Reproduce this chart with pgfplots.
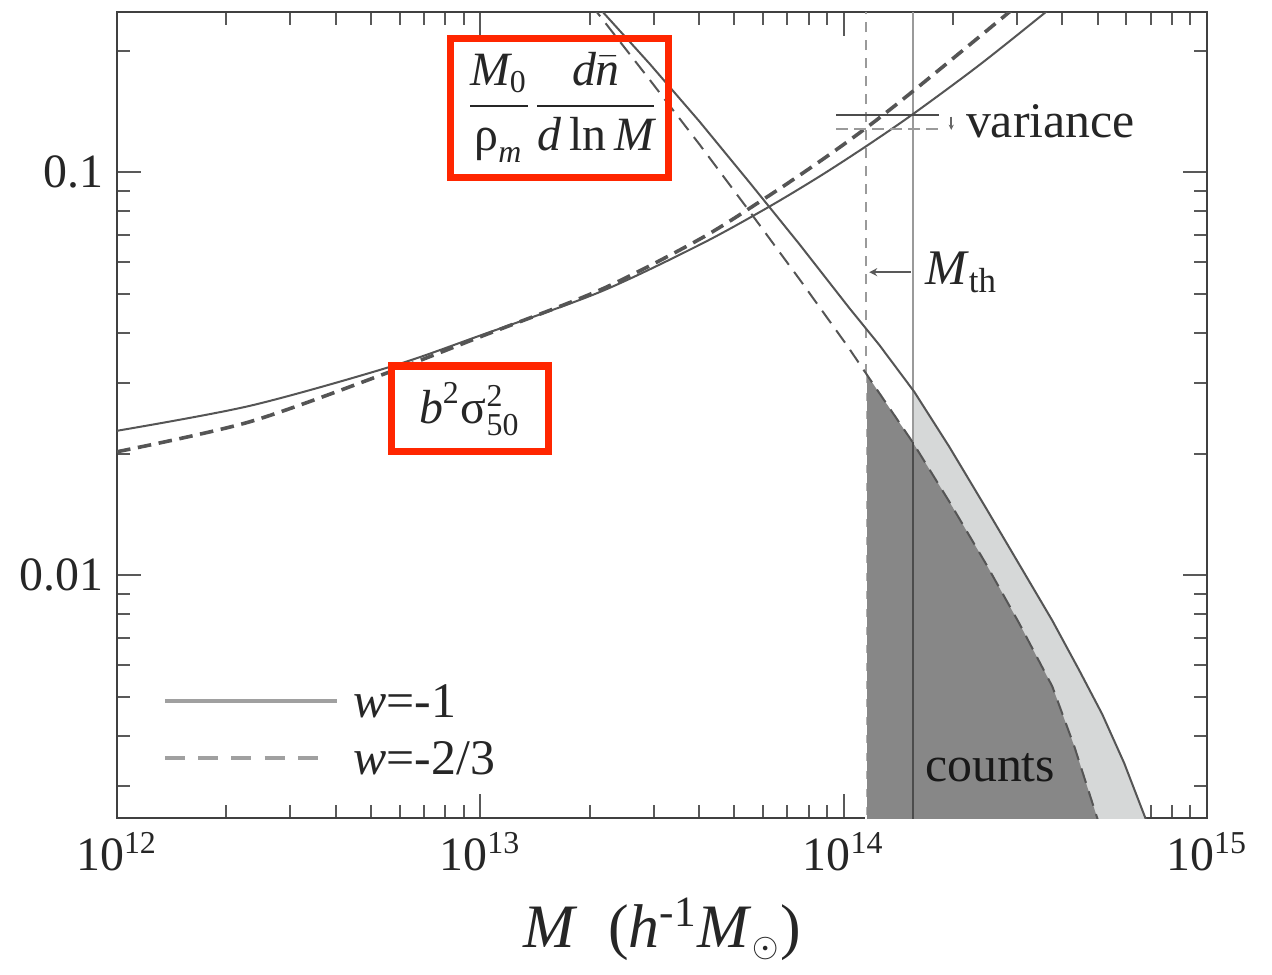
\documentclass[border=0pt]{standalone}
\usepackage{amsmath}
\usepackage{fontspec}
\setmainfont{Liberation Serif}
\usepackage{pgfplots}
\pgfplotsset{compat=1.18}
\usetikzlibrary{arrows.meta}
\definecolor{curve}{HTML}{555555}
\definecolor{vline}{HTML}{9A9A9A}
\definecolor{legline}{HTML}{A0A0A0}
\definecolor{darkfill}{HTML}{878787}
\definecolor{lightfill}{HTML}{D6D8D8}
\definecolor{boxred}{RGB}{255,38,0}
\newcommand{\ti}[1]{\text{\itshape #1}}
\newcommand{\tr}[1]{\text{#1}}
\begin{document}
\begin{tikzpicture}
\begin{axis}[
  name=main,
  xmode=log, ymode=log,
  scale only axis, width=272.5bp, height=201.5bp,
  xmin=1e12, xmax=1e15, ymin=0.0025, ymax=0.25,
  xtick={1e12,1e13,1e14,1e15},
  xticklabels={10\textsuperscript{12},10\textsuperscript{13},10\textsuperscript{14},10\textsuperscript{15}},
  minor xtick={2e12,3e12,4e12,5e12,6e12,7e12,8e12,9e12,2e13,3e13,4e13,5e13,6e13,7e13,8e13,9e13,2e14,3e14,4e14,5e14,6e14,7e14,8e14,9e14},
  ytick={0.01,0.1}, yticklabels={0.01,0.1},
  minor ytick={0.003,0.004,0.005,0.006,0.007,0.008,0.009,0.02,0.03,0.04,0.05,0.06,0.07,0.08,0.09,0.2},
  tick align=inside,
  major tick length=6bp, minor tick length=3.2bp,
  axis line style={draw=black!75, line width=0.6bp},
  every tick/.append style={black!65, line width=0.5bp},
  tick label style={font=\fontsize{12}{14}\selectfont, text=black!85},
  xlabel={\textit{M}\ \ (\textit{h}\textsuperscript{-1}\textit{M}\textsubscript{$\scriptstyle\odot$})},
  xlabel style={font=\fontsize{15.5}{18}\selectfont, text=black!85},
  clip=true,
]
% light fill (w=-1 counts)
\addplot[draw=none, fill=lightfill] coordinates {
(1.545e14,0.0024)(1.545e14,0.02898)(1.564e14,0.02854)(1.952e14,0.02086)(2.468e14,0.01465)(3.041e14,0.01065)(3.748e14,0.007737)(4.446e14,0.005819)(5.144e14,0.004528)(5.912e14,0.003425)(6.712e14,0.002546)(6.80e14,0.00247)(6.80e14,0.0024)
} -- cycle;
% dark fill (w=-2/3 counts)
\addplot[draw=none, fill=darkfill] coordinates {
(1.154e14,0.0024)(1.154e14,0.03162)(1.545e14,0.02146)(1.952e14,0.01525)(2.468e14,0.01065)(3.041e14,0.007606)(3.748e14,0.005311)(4.308e14,0.003773)(4.953e14,0.002546)(5.016e14,0.002461)(5.016e14,0.0024)
} -- cycle;
% vertical M_th lines
\addplot[vline, line width=0.6bp] coordinates {(1.55e14,0.0024)(1.55e14,0.26)};
\addplot[black!70, line width=0.6bp] coordinates {(1.55e14,0.0024)(1.55e14,0.0214)};
\addplot[vline, line width=0.45bp, dash pattern=on 2.5bp off 2bp] coordinates {(1.154e14,0.0316)(1.154e14,0.26)};
\addplot[white, line width=0.45bp, dash pattern=on 2.5bp off 2bp] coordinates {(1.154e14,0.0024)(1.154e14,0.0316)};
% b^2 sigma^2, w=-1 (solid)
\addplot[curve, line width=0.5bp, smooth, tension=0.5] coordinates {
(1e12,0.02285)(2.32e12,0.02635)(5.63e12,0.03291)(9.96e12,0.03935)(2.13e13,0.05047)(4.01e13,0.06611)(6.13e13,0.08149)(8.58e13,0.09774)(1.147e14,0.1158)(1.545e14,0.1392)(2.36e14,0.1846)(3.61e14,0.2505)(3.75e14,0.258)
};
% b^2 sigma^2, w=-2/3 (dashed, heavy)
\addplot[curve, line width=0.9bp, dash pattern=on 3.4bp off 1.9bp, smooth, tension=0.5] coordinates {
(1e12,0.02027)(2.32e12,0.02406)(5.63e12,0.03199)(9.96e12,0.03905)(2.13e13,0.05104)(4.01e13,0.06826)(6.13e13,0.08674)(8.58e13,0.1064)(1.147e14,0.1285)(1.545e14,0.1586)(2.86e14,0.2503)(2.95e14,0.258)
};
% mass function, w=-1 (solid)
\addplot[curve, line width=0.5bp] coordinates {
(2.09e13,0.258)(2.17e13,0.2503)(2.922e13,0.1861)(4.01e13,0.1337)(5.503e13,0.09445)(7.553e13,0.06634)(1.036e14,0.04607)(1.253e14,0.03731)(1.564e14,0.02854)(1.952e14,0.02086)(2.468e14,0.01465)(3.041e14,0.01065)(3.748e14,0.007737)(4.446e14,0.005819)(5.144e14,0.004528)(5.912e14,0.003425)(6.712e14,0.002546)(6.80e14,0.00247)
};
% mass function, w=-2/3 (dashed)
\addplot[curve, line width=0.5bp, dash pattern=on 3.8bp off 2.2bp] coordinates {
(2.011e13,0.261)(2.089e13,0.2503)(2.922e13,0.1699)(4.01e13,0.1173)(5.503e13,0.08007)(7.553e13,0.05434)(1.0235e14,0.0371)(1.154e14,0.03162)(1.545e14,0.02146)(1.952e14,0.01525)(2.468e14,0.01065)(3.041e14,0.007606)(3.748e14,0.005311)(4.308e14,0.003773)(4.953e14,0.002546)(5.016e14,0.002461)
};
% variance markers
\addplot[black!70, line width=0.5bp] coordinates {(9.546e13,0.1392)(1.832e14,0.1392)};
\addplot[vline, line width=0.5bp, dash pattern=on 3bp off 1.5bp] coordinates {(9.546e13,0.1285)(1.891e14,0.1285)};
\draw[black!60, line width=0.4bp, -{Stealth[length=1.3bp,width=1.3bp]}] (axis cs:1.977e14,0.1376) -- (axis cs:1.977e14,0.1275);
% M_th arrow
\draw[black!65, line width=0.5bp, -{Stealth[length=2bp,width=2bp]}] (axis cs:1.53e14,0.05655) -- (axis cs:1.175e14,0.05655);
% legend lines
\addplot[legline, line width=0.8bp] coordinates {(1.355e12,0.004877)(4.027e12,0.004877)};
\addplot[legline, line width=0.8bp, dash pattern=on 5bp off 3.3bp] coordinates {(1.355e12,0.003524)(3.662e12,0.003524)};
% texts
\node[inner sep=0pt, anchor=west, text=black!85, font=\fontsize{12.5}{14}\selectfont] at (axis cs:4.455e12,0.004877) {\textit{w}=-1};
\node[inner sep=0pt, anchor=west, text=black!85, font=\fontsize{12.5}{14}\selectfont] at (axis cs:4.455e12,0.003524) {\textit{w}=-2/3};
\node[inner sep=0pt, anchor=west, text=black!85, font=\fontsize{12.5}{14}\selectfont] at (axis cs:2.16e14,0.1337) {variance};
\node[inner sep=0pt, anchor=west, text=black!85, font=\fontsize{12.5}{14}\selectfont] at (axis cs:1.667e14,0.0566) {\textit{M}\textsubscript{th}};
\node[inner sep=0pt, anchor=west, text=black!90, font=\fontsize{12.5}{14}\selectfont] at (axis cs:1.667e14,0.00333) {counts};
\node[inner sep=0pt, text=black!85, font=\fontsize{12}{13}\selectfont] at (axis cs:1.68e13,0.1448) {$\displaystyle\frac{\ti{M}_{\tr{0}}}{\tr{ρ}_{\ti{m}}}\frac{\ti{d}\bar{\ti{n}}}{\ti{d}\,\tr{ln}\,\ti{M}}$};
\node[inner sep=0pt, text=black!85, font=\fontsize{12}{14}\selectfont] at (axis cs:9.348e12,0.0259) {$\ti{b}^{\tr{2}}\tr{σ}^{\tr{2}}_{\tr{50}}$};
% red boxes
\draw[boxred, line width=1.8bp] (axis cs:8.288e12,0.2146) rectangle (axis cs:3.295e13,0.09719);
\draw[boxred, line width=1.8bp] (axis cs:5.704e12,0.0331) rectangle (axis cs:1.541e13,0.02027);
\end{axis}
\path ([xshift=-29.25bp,yshift=-37.5bp]main.south west) rectangle ([xshift=16.25bp,yshift=3bp]main.north east);
\end{tikzpicture}
\end{document}
